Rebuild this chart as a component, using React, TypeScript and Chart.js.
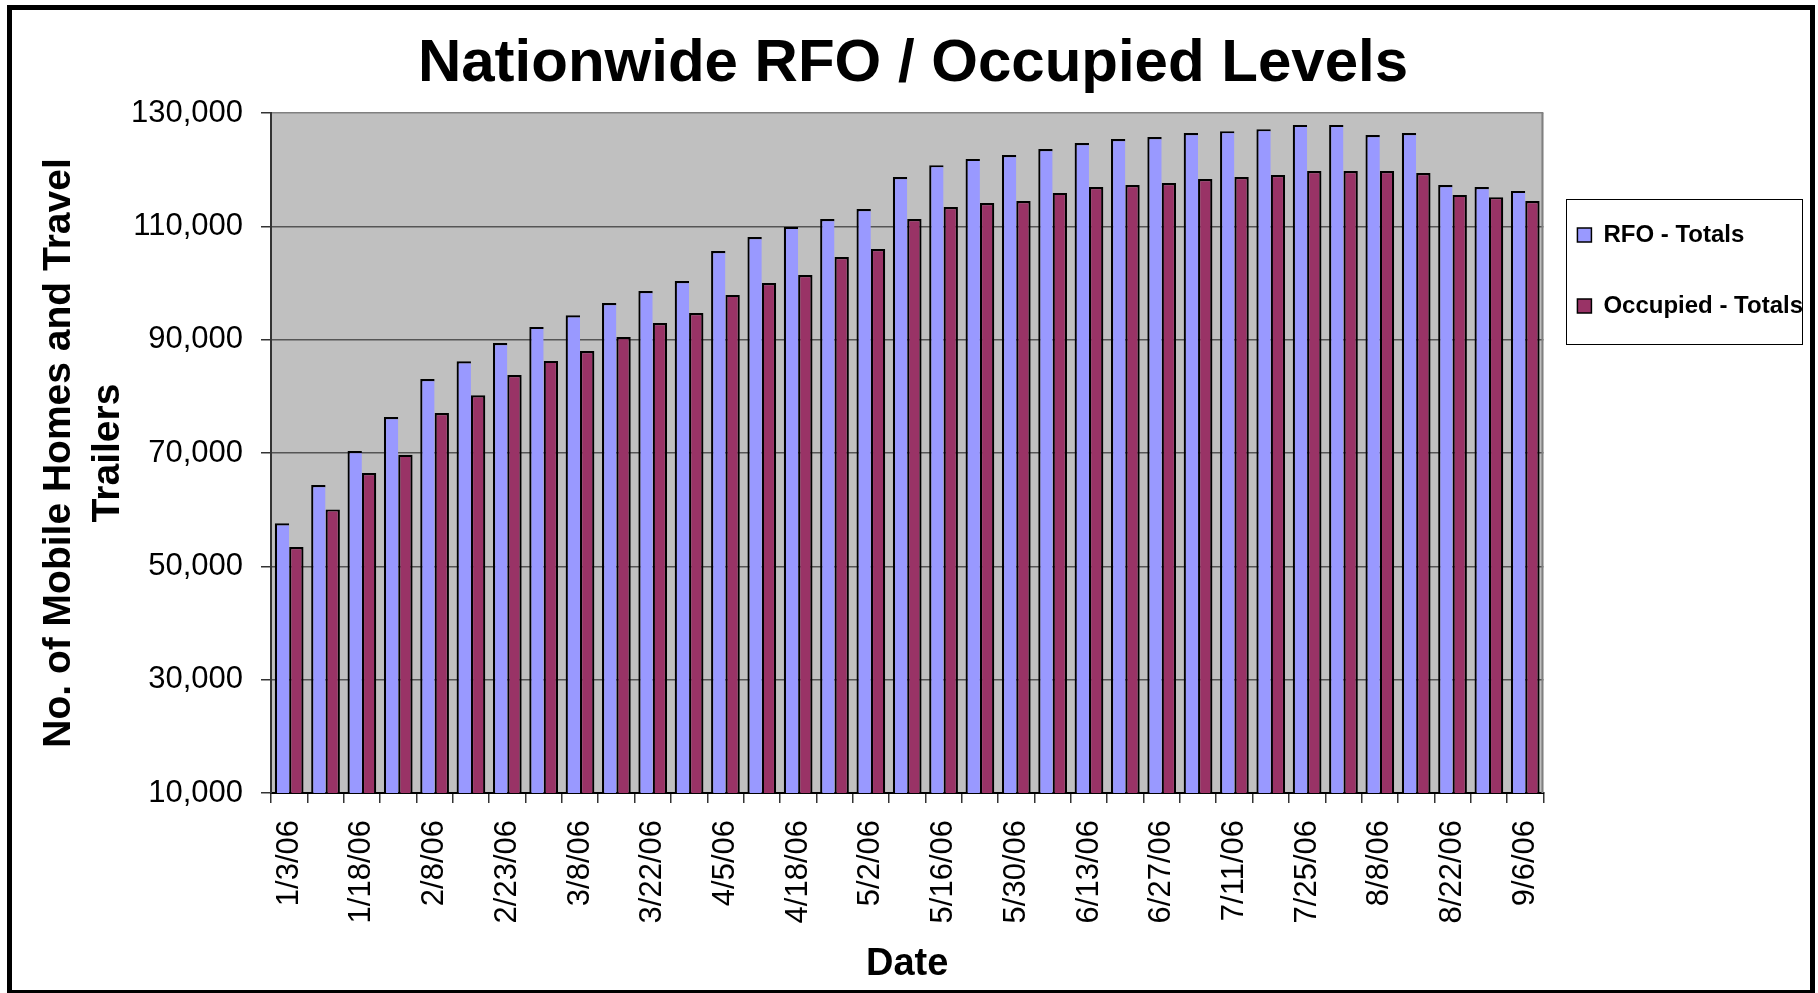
import React, { useEffect, useRef } from 'react';
import { Chart, registerables } from 'chart.js';

Chart.register(...registerables);

const FONT = '"Liberation Sans", Arial, sans-serif';

// One category per report date; only every other date is labelled in the original.
const categories = [
  '1/3/06', '', '1/18/06', '', '2/8/06', '', '2/23/06', '', '3/8/06', '',
  '3/22/06', '', '4/5/06', '', '4/18/06', '', '5/2/06', '', '5/16/06', '',
  '5/30/06', '', '6/13/06', '', '6/27/06', '', '7/11/06', '', '7/25/06', '',
  '8/8/06', '', '8/22/06', '', '9/6/06',
];

const rfoTotals = [
  57600, 64350, 70350, 76350, 83050, 86200, 89400, 92250, 94300, 96450,
  98600, 100350, 105650, 108100, 109900, 111300, 113050, 118700, 120800, 121900,
  122600, 123650, 124700, 125400, 125750, 126450, 126800, 127150, 127900, 127900,
  126100, 126450, 117300, 116950, 116250,
];

const occupiedTotals = [
  53400, 60050, 66450, 69700, 77050, 80200, 83750, 86250, 88000, 90450,
  92950, 94700, 97900, 100000, 101400, 104600, 106000, 111300, 113400, 114100,
  114450, 115900, 116950, 117300, 117650, 118350, 118700, 119050, 119750, 119750,
  119750, 119400, 115550, 115150, 114450,
];

const yMin = 10000;
const yMax = 130000;
const yStep = 20000;

const titleText = 'Nationwide RFO / Occupied Levels';
const xTitle = 'Date';
const yTitle = ['No. of Mobile Homes and Travel', 'Trailers'];

const plotDecor = {
  id: 'plotDecor',
  beforeDraw(chart: any) {
    const { ctx, chartArea: a } = chart;
    ctx.save();
    ctx.fillStyle = '#C0C0C0';
    ctx.fillRect(a.left, a.top, a.right - a.left, a.bottom - a.top);
    ctx.restore();
  },
  afterDraw(chart: any) {
    const { ctx, chartArea: a } = chart;
    ctx.save();
    ctx.strokeStyle = '#808080';
    ctx.lineWidth = 2;
    ctx.beginPath();
    ctx.moveTo(a.right - 1, a.top);
    ctx.lineTo(a.right - 1, a.bottom);
    ctx.stroke();
    const hb = chart.legend && chart.legend.legendHitBoxes;
    if (hb && hb.length) {
      const x0 = hb[0].left - 11;
      const y0 = hb[0].top - 24;
      const y1 = hb[hb.length - 1].top + 50;
      ctx.strokeStyle = '#000';
      ctx.lineWidth = 1;
      ctx.strokeRect(Math.round(x0) + 0.5, Math.round(y0) + 0.5, 236, Math.round(y1 - y0));
    }
    ctx.restore();
  },
};

export default function App() {
  const canvasRef = useRef<HTMLCanvasElement | null>(null);

  useEffect(() => {
    if (!canvasRef.current) return;
    const chart = new Chart(canvasRef.current, {
      type: 'bar',
      data: {
        labels: categories,
        datasets: [
          {
            label: 'RFO - Totals',
            data: rfoTotals,
            backgroundColor: '#9999FF',
            borderColor: '#000000',
            borderWidth: { left: 2.2, top: 2.2, right: 0, bottom: 2 },
            borderSkipped: false,
            inflateAmount: 0,
            categoryPercentage: 0.79,
            barPercentage: 1,
          },
          {
            label: 'Occupied - Totals',
            data: occupiedTotals,
            backgroundColor: '#993366',
            borderColor: '#000000',
            borderWidth: { left: 2.2, top: 2.2, right: 2.2, bottom: 2 },
            borderSkipped: false,
            inflateAmount: 0,
            categoryPercentage: 0.79,
            barPercentage: 1,
          },
        ],
      },
      options: {
        responsive: false,
        animation: false,
        layout: { padding: { left: 13, right: 5, top: 0, bottom: 0 } },
        plugins: {
          title: {
            display: true,
            text: titleText,
            color: '#000',
            font: { family: FONT, size: 60, weight: 'bold', lineHeight: 1.2 },
            padding: { top: 28, bottom: 13 },
          },
          tooltip: { enabled: false },
          legend: {
            position: 'right',
            align: 'start',
            fullSize: false,
            title: {
              display: true,
              text: '',
              padding: { top: 66, bottom: 0 },
              font: { size: 10, lineHeight: 1 },
            },
            labels: {
              boxWidth: 14,
              boxHeight: 14,
              padding: 34,
              color: '#000',
              font: { family: FONT, size: 24, weight: 'bold', lineHeight: 37 / 24 },
              generateLabels: (c: any) =>
                (Chart.defaults.plugins.legend.labels as any)
                  .generateLabels(c)
                  .map((l: any) => ({ ...l, text: [l.text], lineWidth: 1.5, strokeStyle: '#000' })),
            },
          },
        },
        scales: {
          x: {
            offset: true,
            afterFit: (s: any) => { s.height = 200; },
            grid: {
              display: true,
              drawOnChartArea: false,
              drawTicks: true,
              tickLength: 10,
              color: '#333',
              lineWidth: 1.5,
              offset: true,
            },
            border: { display: true, color: '#000', width: 2 },
            ticks: {
              autoSkip: false,
              minRotation: 90,
              maxRotation: 90,
              padding: 17,
              color: '#000',
              font: { family: FONT, size: 31 },
            },
            title: {
              display: true,
              text: xTitle,
              color: '#000',
              font: { family: FONT, size: 38, weight: 'bold', lineHeight: 1.2 },
              padding: { top: 18, bottom: 6 },
            },
          },
          y: {
            min: yMin,
            max: yMax,
            afterFit: (s: any) => { s.width = 258; },
            ticks: {
              stepSize: yStep,
              padding: 18,
              color: '#000',
              font: { family: FONT, size: 31 },
              callback: (v: any) => Number(v).toLocaleString('en-US'),
            },
            grid: {
              color: (ctx: any) => (ctx.tick && ctx.tick.value === yMax ? '#808080' : '#555555'),
              lineWidth: 1.5,
              tickLength: 10,
              tickColor: '#333',
            },
            border: { display: true, color: '#333', width: 2 },
            title: {
              display: true,
              text: yTitle,
              color: '#000',
              font: { family: FONT, size: 39, weight: 'bold', lineHeight: 1.25 },
              padding: { top: 22, bottom: 0 },
            },
          },
        },
      },
      plugins: [plotDecor],
    } as any);
    return () => chart.destroy();
  }, []);

  return (
    <div style={{ position: 'fixed', left: 0, top: 0, width: 1818, height: 993, background: '#fff', overflow: 'hidden' }}>
      <canvas ref={canvasRef} width={1818} height={993} style={{ display: 'block', position: 'absolute', left: 0, top: 0 }} />
      <div
        style={{
          position: 'absolute',
          left: 7,
          top: 5,
          width: 1808,
          height: 990,
          border: '5px solid #000',
          boxSizing: 'border-box',
          pointerEvents: 'none',
        }}
      />
    </div>
  );
}
